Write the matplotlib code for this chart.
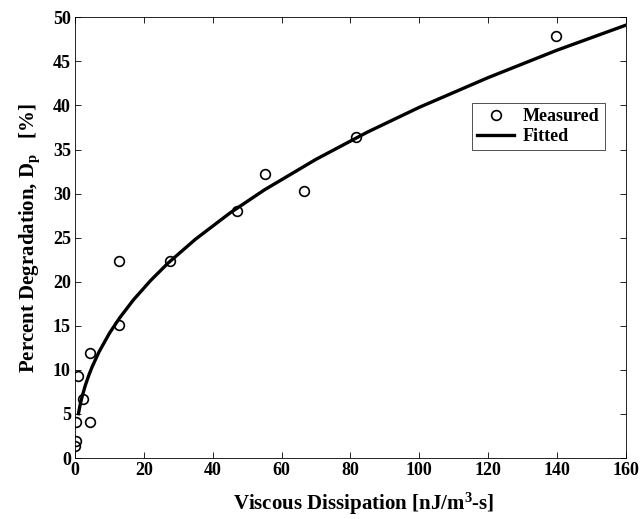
import matplotlib
matplotlib.use('Agg')
import matplotlib.pyplot as plt

# measured points
meas_x = [0.1, 0.2, 0.2, 0.9, 2.3, 4.3, 4.5, 12.7, 12.7, 27.6, 47.0, 55.3, 66.5, 81.6, 139.8]
meas_y = [1.4, 1.97, 4.1, 9.3, 6.7, 11.9, 4.1, 22.3, 15.1, 22.3, 28.0, 32.2, 30.3, 36.4, 47.9]

# fitted curve
fit_x = [1, 1.5, 2, 3, 4, 5, 7, 10, 13, 17, 22, 27, 35, 45, 55, 70, 85, 100, 120, 140, 160]
fit_y = [5.03, 6.04, 6.87, 8.24, 9.37, 10.36, 12.05, 14.15, 15.91, 17.95, 20.15, 22.10,
         24.82, 27.79, 30.41, 33.88, 36.98, 39.78, 43.15, 46.26, 49.10]

plt.rcParams['font.family'] = 'Liberation Serif'
plt.rcParams['font.weight'] = 'bold'
plt.rcParams['mathtext.fontset'] = 'custom'
plt.rcParams['mathtext.rm'] = 'Liberation Serif:bold'
plt.rcParams['mathtext.bf'] = 'Liberation Serif:bold'
plt.rcParams['mathtext.it'] = 'Liberation Serif:bold'

fig = plt.figure(figsize=(6.42, 5.19), dpi=100)
ax = fig.add_axes([0.1168, 0.1175, 0.8578, 0.8492])

ax.plot(meas_x, meas_y, 'o', mfc='none', mec='black', ms=7, mew=1.2, label='Measured')
ax.plot(fit_x, fit_y, '-', color='black', lw=2.4, label='Fitted')

ax.set_xlim(0, 160)
ax.set_ylim(0, 50)
ax.set_xticks(range(0, 161, 20))
ax.set_yticks(range(0, 51, 5))
ax.tick_params(direction='in', top=True, right=True, labelsize=13, length=4, width=0.6, pad=3)
for sp in ax.spines.values():
    sp.set_linewidth(0.6)

ax.set_xlabel('Viscous Dissipation [nJ/m$^3$-s]', fontsize=15, fontweight='bold')
ax.xaxis.set_label_coords(0.525, -0.075)
ax.set_ylabel('Percent Degradation, D$_\\mathrm{p}$   [%]', fontsize=15, fontweight='bold', labelpad=8)

leg = ax.legend(loc='upper left', bbox_to_anchor=(0.721, 0.806), fontsize=13,
                frameon=True, fancybox=False, edgecolor='black', borderpad=0.3,
                handlelength=2.0, handletextpad=0.5, borderaxespad=0, labelspacing=0.15)
leg.get_frame().set_linewidth(0.6)

fig.savefig('out.png', dpi=100)
